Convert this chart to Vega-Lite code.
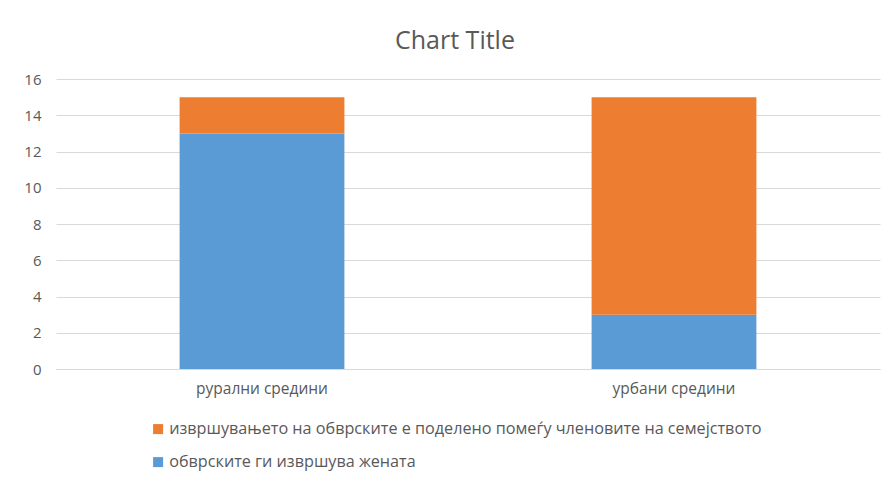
{
  "$schema": "https://vega.github.io/schema/vega-lite/v6.json",
  "autosize": {"type": "none"},
  "width": 824,
  "height": 290,
  "padding": {"left": 56, "top": 79, "right": 12, "bottom": 112},
  "background": "white",
  "title": {
    "text": "Chart Title",
    "fontSize": 25,
    "font": "Open Sans",
    "fontWeight": "normal",
    "color": "#595959",
    "anchor": "middle",
    "dx": -13,
    "offset": 18,
    "frame": "group"
  },
  "data": {
    "values": [
      {"area": "рурални средини", "series": "обврските ги извршува жената", "value": 13},
      {"area": "рурални средини", "series": "извршувањето на обврските е поделено помеѓу членовите на семејството", "value": 2},
      {"area": "урбани средини", "series": "обврските ги извршува жената", "value": 3},
      {"area": "урбани средини", "series": "извршувањето на обврските е поделено помеѓу членовите на семејството", "value": 12}
    ]
  },
  "mark": {"type": "bar"},
  "encoding": {
    "x": {
      "field": "area",
      "type": "nominal",
      "sort": null,
      "scale": {"paddingInner": 0.6, "paddingOuter": 0.3},
      "axis": {
        "title": null,
        "labelAngle": 0,
        "ticks": false,
        "domain": true,
        "domainColor": "#D9D9D9",
        "labelPadding": 12,
        "labelFontSize": 15.5,
        "labelFont": "Open Sans",
        "labelColor": "#595959"
      }
    },
    "y": {
      "field": "value",
      "type": "quantitative",
      "stack": "zero",
      "scale": {"domain": [0, 16], "nice": false},
      "axis": {
        "title": null,
        "values": [0, 2, 4, 6, 8, 10, 12, 14, 16],
        "ticks": false,
        "domain": false,
        "gridColor": "#D9D9D9",
        "labelPadding": 15,
        "labelFontSize": 15,
        "labelFont": "Open Sans",
        "labelColor": "#595959"
      }
    },
    "color": {
      "field": "series",
      "type": "nominal",
      "scale": {
        "domain": ["извршувањето на обврските е поделено помеѓу членовите на семејството", "обврските ги извршува жената"],
        "range": ["#ED7D31", "#5B9BD5"]
      },
      "legend": {
        "title": null,
        "orient": "none",
        "legendX": 94,
        "legendY": 342,
        "direction": "vertical",
        "symbolType": "square",
        "symbolSize": 100,
        "symbolStrokeWidth": 0,
        "rowPadding": 16,
        "labelFontSize": 16.2,
        "labelFont": "Open Sans",
        "labelColor": "#595959",
        "labelLimit": 800,
        "labelOffset": 3
      }
    },
    "order": {"field": "series", "sort": "descending"}
  },
  "config": {"view": {"stroke": null}}
}
